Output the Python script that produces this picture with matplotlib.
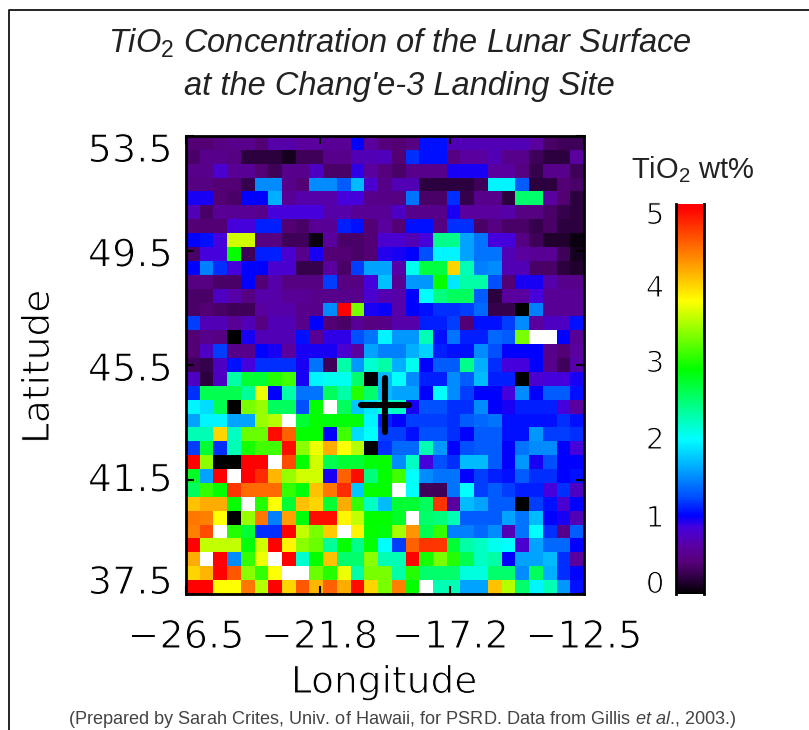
import numpy as np
import matplotlib
matplotlib.use('Agg')
import matplotlib.pyplot as plt
import matplotlib.patheffects as pe
from matplotlib.colors import LinearSegmentedColormap, Normalize
from matplotlib.lines import Line2D

W, H = 809, 730

plt.rcParams['mathtext.fontset'] = 'custom'
plt.rcParams['mathtext.rm'] = 'Liberation Sans'
plt.rcParams['mathtext.it'] = 'Liberation Sans:italic'

# TiO2 wt%, north to south, west to east (above 5 drawn white, 0 black)
tio2 = [
    [.4,.4,.45,.5,.5,.4,.65,.65,.6,.6,.55,.55,1.0,.6,.42,.4,.45,1.05,1.05,.7,.7,.7,.7,.7,.7,.6,.35,.3,.3],
    [.35,.5,.5,.45,.2,.2,.2,.1,.3,.3,.5,.5,.7,.7,.72,.4,1.15,1.05,1.05,.45,.6,.6,.7,.5,.5,.3,.2,.2,.6],
    [.5,.5,.8,.55,.55,.4,.3,.5,.5,.75,.35,.35,.9,.6,.42,.35,.5,.5,.5,.95,.95,.95,.6,.6,.45,.25,.5,.5,.3],
    [.45,.45,.4,.4,.25,1.5,1.5,.5,.4,1.5,1.5,1.3,1.7,.8,.48,.7,.7,.2,.2,.2,.2,.3,1.95,1.95,1.3,.2,.2,.4,.35],
    [.95,.95,.4,.35,1.0,1.0,1.65,.55,.65,.65,.65,.85,.85,.5,.48,.45,1.4,.35,.35,1.15,.25,.5,.5,.2,2.5,2.5,.6,.4,.2],
    [.7,.35,.55,.55,.55,.5,.85,.85,.85,.85,.65,.65,.55,.55,.55,.75,.5,.5,.5,.95,.6,.6,.6,.65,.45,.45,.35,.25,.2],
    [.4,.4,.4,.85,.85,1.1,1.1,.4,.35,.55,.55,1.1,1.05,.4,.6,.4,1.05,1.05,.45,1.15,1.15,.35,.45,.35,.35,.25,.35,.2,.2],
    [1.0,1.05,.85,3.6,3.6,.45,.45,.3,.3,.05,.6,.35,.35,.4,.8,.8,.7,.85,2.4,2.4,1.6,1.4,.85,.85,.45,.3,.15,.15,.05],
    [.35,.85,.85,2.9,.3,1.1,1.1,.8,.5,.95,.4,.4,.35,.4,.92,.95,1.0,1.25,1.95,1.95,1.6,1.4,1.4,.7,.6,.55,.55,.3,.1],
    [1.0,1.45,1.15,.85,1.0,1.0,.8,.8,.25,.25,.6,.35,1.2,1.6,1.6,.65,2.05,2.65,2.65,3.95,2.25,1.45,1.5,.7,.7,.35,.35,.2,.15],
    [.45,.45,.35,.35,1.0,.4,.65,.45,.45,.45,1.2,.45,.45,.85,1.72,.55,1.55,1.55,2.9,1.9,2.3,2.3,1.25,.4,.95,.95,.65,.5,.5],
    [.35,.35,.75,.65,.45,.65,.65,.55,.55,.5,.5,.5,.5,.8,.68,.65,1.0,2.0,2.45,2.55,2.55,1.3,.2,.6,.6,.85,.55,.55,.55],
    [.35,.4,.35,.3,.3,.6,.65,.65,.5,.5,1.5,5.0,3.3,.95,.98,.65,1.0,1.05,1.15,1.15,1.2,1.35,.25,.25,0,1.45,.55,.55,.55],
    [1.2,.7,.7,.55,.7,.45,.7,.7,.5,1.0,.4,.35,.55,.45,.48,.65,.65,1.1,1.1,1.2,.4,1.05,1.05,1.2,1.5,.6,.75,.75,1.05],
    [.4,.5,.45,0,.95,.7,.7,.7,1.05,.55,.9,.9,1.25,1.4,1.95,1.55,1.55,2.25,1.05,1.4,1.1,1.1,1.35,1.3,3.3,5.5,5.5,1.0,.55],
    [.4,.75,1.2,.5,.5,1.0,.95,.6,.95,.95,.95,.8,.6,1.6,1.45,1.45,1.65,1.8,1.1,1.05,1.05,1.5,1.25,1.0,1.0,1.0,.5,.4,.6],
    [.3,.25,.75,1.05,.85,1.15,1.15,1.15,.95,1.4,.3,2.3,1.55,2.15,2.3,1.65,2.05,1.0,1.3,1.3,2.4,1.65,1.15,.85,.85,1.0,.5,.3,.65],
    [.75,.2,.75,2.3,2.7,2.7,3.0,3.1,.95,1.95,2.05,2.05,2.5,0,1.7,2.0,1.5,1.1,1.1,1.5,1.3,1.7,1.1,1.1,0,.8,.85,.85,.95],
    [1.15,2.6,2.6,2.6,2.35,3.7,1.0,2.3,1.4,1.4,2.55,2.3,3.0,2.5,1.7,1.6,1.6,1.0,2.0,1.5,1.2,1.0,1.0,.85,1.5,1.0,1.3,1.3,1.05],
    [1.95,1.85,2.6,0,3.3,3.4,2.55,2.55,1.25,2.9,5.5,2.55,1.75,1.9,2.1,2.2,.95,1.25,1.25,1.15,1.15,1.5,1.0,.95,1.1,1.1,1.1,.85,.6],
    [1.6,1.95,1.95,1.6,1.6,3.4,3.5,5.5,2.7,2.9,2.85,2.85,2.85,1.95,1.1,1.0,1.2,1.2,1.2,1.15,1.3,1.35,1.4,1.05,1.05,1.05,1.05,1.15,1.05],
    [2.25,2.25,3.95,2.2,3.25,3.25,4.9,4.5,2.9,2.9,1.0,3.1,1.85,2.0,1.2,1.2,1.05,1.25,1.25,1.15,1.0,1.3,1.3,1.05,1.05,1.55,1.2,1.2,1.15],
    [1.2,2.7,1.15,2.25,2.95,3.1,3.1,4.9,3.35,3.7,4.15,3.75,3.5,0,1.15,1.35,1.35,2.25,1.55,1.0,1.25,1.3,1.3,1.0,1.4,1.5,1.5,1.0,.85],
    [4.95,3.35,0,0,4.95,4.95,5.5,4.6,2.9,3.6,2.6,2.7,2.7,2.85,2.9,1.5,2.2,.85,1.25,1.15,1.7,1.7,1.3,1.0,1.55,.95,1.25,1.0,1.0],
    [2.75,1.6,4.95,5.5,4.95,4.75,4.1,3.4,3.6,3.6,.95,4.5,4.9,2.45,2.9,3.1,2.0,1.5,1.4,1.4,1.0,1.2,1.1,1.05,1.3,1.15,1.15,1.0,1.05],
    [2.55,3.05,2.9,4.7,4.45,4.45,4.45,3.05,2.85,4.05,4.4,4.75,1.75,2.9,2.9,5.5,2.0,.3,.3,1.4,2.0,1.2,1.3,1.2,1.1,1.1,.85,1.15,.75],
    [4.05,4.15,4.15,2.9,5.5,3.0,3.75,2.7,4.05,3.95,2.7,4.15,3.05,2.2,1.7,2.7,2.7,2.55,4.7,.6,1.7,1.6,1.3,1.3,0,1.2,1.05,.8,1.0],
    [4.4,4.35,3.75,0,3.4,4.4,1.45,4.2,2.85,4.9,4.9,3.8,3.55,2.9,2.9,2.75,5.5,2.5,2.45,2.25,1.3,1.3,1.3,1.6,1.4,1.7,1.0,.95,.7],
    [4.35,4.6,5.5,3.0,2.7,1.15,1.15,4.95,3.55,3.3,4.0,5.5,3.8,2.9,2.85,3.45,4.25,2.6,3.05,1.45,1.45,1.35,1.5,.7,1.4,2.0,1.15,.5,1.3],
    [4.95,3.55,3.55,3.55,2.85,3.6,4.95,3.8,3.35,3.25,2.35,2.9,2.4,2.9,2.0,1.2,4.5,4.7,4.7,2.7,2.3,2.2,2.05,2.0,.8,1.6,1.35,1.35,1.0],
    [4.15,5.5,4.95,1.5,3.05,3.7,5.5,4.95,2.15,2.9,4.05,2.5,2.5,3.35,2.25,2.25,4.95,2.95,3.3,3.0,2.6,2.2,2.3,1.0,1.6,1.6,1.7,1.15,.6],
    [3.95,4.1,4.95,4.55,3.35,3.05,3.75,5.5,5.5,3.25,3.0,3.7,2.3,3.3,3.3,2.3,3.0,2.5,2.5,2.5,2.1,2.1,2.5,2.5,1.5,2.55,1.65,1.15,1.0],
    [4.95,4.95,3.75,3.75,4.4,3.5,4.95,3.95,4.55,4.1,4.5,4.15,4.9,3.95,3.3,4.35,2.9,5.5,2.25,2.25,1.6,1.6,4.05,3.5,2.5,1.95,2.25,1.55,1.05],
]

lon_ticks = [-26.5, -21.8, -17.2, -12.5]
lat_ticks = [37.5, 41.5, 45.5, 49.5, 53.5]
cbar_ticks = [0, 1, 2, 3, 4, 5]
site_lon = -19.5
site_lat = 44.1

cmap_vals = [0, .2, .4, .6, .85, 1.0, 1.25, 1.6, 1.99, 2.88, 3.76, 4.96, 5]
cmap_cols = ['#000000', '#2d0040', '#550078', '#5a00a0', '#4600dc', '#0000ff', '#0050ff', '#00a5ff',
             '#00ffff', '#00ff00', '#ffff00', '#ff0000', '#ff0000']

cmap = LinearSegmentedColormap.from_list('tio2', [(v/5, c) for v, c in zip(cmap_vals, cmap_cols)], N=512)
cmap.set_over('white')
norm = Normalize(0, 5)

thin = [pe.Stroke(linewidth=0.8, foreground='white')]

fig = plt.figure(figsize=(W/100, H/100), dpi=100)

# map
ax = fig.add_axes([186/W, 1-594/H, 398/W, 458/H])
im = ax.imshow(np.array(tio2), cmap=cmap, norm=norm, aspect='auto', interpolation='nearest',
               extent=[lon_ticks[0], lon_ticks[-1], lat_ticks[0], lat_ticks[-1]])
ax.set_xticks(lon_ticks)
ax.set_yticks(lat_ticks)
ax.tick_params(direction='in', length=6, width=1.5, top=True, right=True, labelbottom=False, labelleft=False)
for s in ax.spines.values():
    s.set_linewidth(2)

ax.plot([site_lon-.85, site_lon+.85], [site_lat, site_lat], color='k', lw=4.4, solid_capstyle='round')
ax.plot([site_lon, site_lon], [site_lat-.95, site_lat+.95], color='k', lw=4.4, solid_capstyle='round')

# tick labels sit inside the axis range at both ends, like the original
for v, dy in zip(lat_ticks, [14, 2, -2, -2, -12]):
    ax.annotate(f'{v:.1f}', (lon_ticks[0], v), xytext=(-13/1.389, dy/1.389), textcoords='offset points',
                ha='right', va='center_baseline', fontsize=27.5, path_effects=thin)
for v in lon_ticks:
    ax.annotate(f'{v:.1f}'.replace('-', '\u2212'), (v, lat_ticks[0]), xytext=(0, -54/1.389),
                textcoords='offset points', ha='center', va='baseline', fontsize=27.5, path_effects=thin)

fig.text(39/W, 1-367/H, 'Latitude', rotation=90, ha='center', va='center', fontsize=27, path_effects=thin)
fig.text(384/W, 1-693/H, 'Longitude', ha='center', va='baseline', fontsize=27, path_effects=thin)

# colour bar
cax = fig.add_axes([676/W, 1-594/H, 28/W, 390/H])
cb = fig.colorbar(im, cax=cax, ticks=[])
cb.outline.set_visible(False)
cax.spines['left'].set_visible(True)
cax.spines['right'].set_visible(True)
cax.spines['left'].set_linewidth(2)
cax.spines['right'].set_linewidth(2)
for v, dy in zip(cbar_ticks, [12, 0, 0, -1, -4, -9]):
    cax.annotate(str(v), (0, v), xytext=(-21/1.389, dy/1.389), textcoords='offset points',
                 ha='center', va='center_baseline', fontsize=21, path_effects=thin)

# titles
sans = 'Liberation Sans'
fig.text(400/W, 1-53/H, r'$\mathit{TiO_2}$ Concentration of the Lunar Surface', ha='center', va='baseline',
         family=sans, style='italic', fontsize=23.5, color='#222222')
fig.text(399/W, 1-95/H, "at the Chang'e-3 Landing Site", ha='center', va='baseline',
         family=sans, style='italic', fontsize=23.5, color='#222222')
fig.text(693/W, 1-178/H, r'TiO$_{\mathrm{2}}$ wt%', ha='center', va='baseline', family=sans, fontsize=21, color='#222222')
fig.text(402/W, 1-724/H, r'(Prepared by Sarah Crites, Univ. of Hawaii, for PSRD. Data from Gillis $\mathit{et\ al}$., 2003.)',
         ha='center', va='baseline', family=sans, fontsize=13.1, color='#444444')

# page frame, open on the right and at the bottom
fig.add_artist(Line2D([9/W, 9/W, 1], [0, 1-10/H, 1-10/H], color='k', lw=1.2))

fig.savefig('out.png', dpi=100)
